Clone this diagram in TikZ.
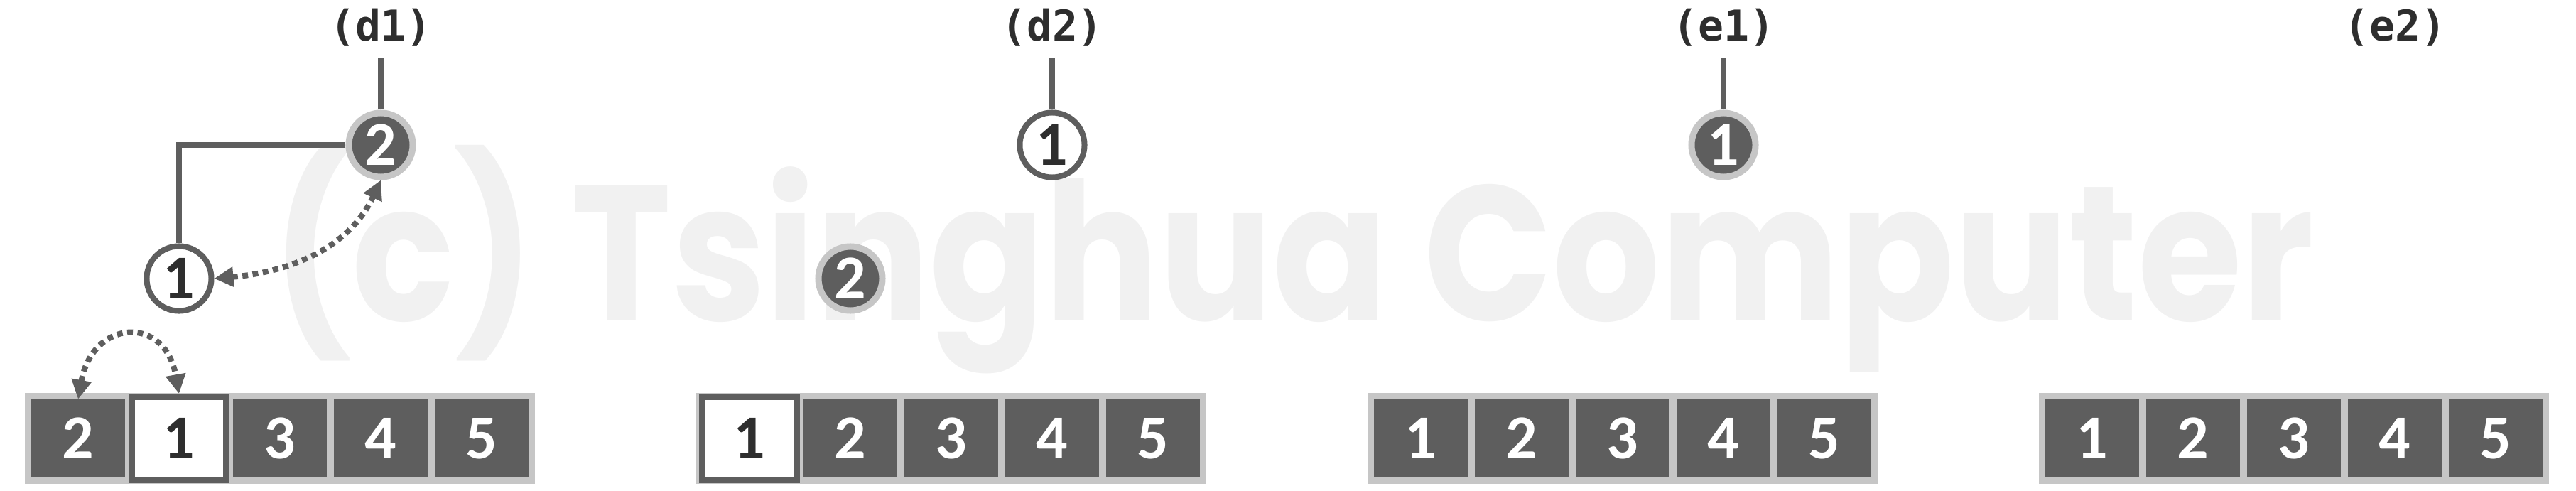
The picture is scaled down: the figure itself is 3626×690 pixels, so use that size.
\documentclass[tikz,border=0pt]{standalone}
\usepackage{fontspec}
\usepackage{tikz}
\usetikzlibrary{arrows.meta}

\newfontfamily\digitfont{Carlito}
\newfontfamily\labelfont{DejaVu Sans Mono}
\newfontfamily\markfont{Poppins}

\definecolor{cellgray}{HTML}{5E5E5E}
\definecolor{rimgray}{HTML}{C6C6C6}
\definecolor{inkgray}{HTML}{2E2E2E}
\definecolor{markgray}{HTML}{F1F1F1}

\tikzset{
  digits/.style={font=\digitfont\bfseries\fontsize{25}{25}\selectfont},
  barbox/.style={fill=rimgray, minimum width=7.18cm, minimum height=1.27cm, inner sep=0},
  cellbox/.style={digits, fill=cellgray, text=white, minimum width=1.32cm, minimum height=1.09cm, inner sep=0},
  pickbox/.style={digits, fill=white, draw=cellgray, line width=0.09cm, text=inkgray, minimum width=1.33cm, minimum height=1.17cm, inner sep=0},
  solidnode/.style={digits, circle, fill=cellgray, draw=rimgray, line width=0.09cm, text=white, minimum size=0.9cm, inner sep=0},
  opennode/.style={digits, circle, fill=white, draw=cellgray, line width=0.08cm, text=inkgray, minimum size=0.91cm, inner sep=0},
  steplabel/.style={font=\labelfont\bfseries\fontsize{17}{17}\selectfont, text=inkgray},
  treeline/.style={draw=cellgray, line width=0.085cm},
  swaparrow/.style={cellgray, line width=0.08cm, dash pattern=on 0.08cm off 0.065cm,
    {Triangle[length=0.27cm,width=0.27cm]}-{Triangle[length=0.27cm,width=0.27cm]}}
}

\begin{document}
\begin{tikzpicture}[x=0.01cm, y=0.01cm]
\useasboundingbox (0,0) rectangle (3626,690);

% watermark
\node[font=\markfont\bfseries\fontsize{77}{77}\selectfont, text=markgray, anchor=base] (mark) at (1820,239) {\scalebox{0.88}[1]{(c) Tsinghua Computer}};

% (d1)
\node[steplabel] (d1lab) at (536,651) {(d1)};
\coordinate (d1top) at (536,609);
\node[barbox] (d1bar) at (394,73) {};
\node[cellbox] (d1a) at (110,73) {2};
\node[pickbox] (d1b) at (252,73) {1};
\node[cellbox] (d1c) at (394,73) {3};
\node[cellbox] (d1d) at (536,73) {4};
\node[cellbox] (d1e) at (678,73) {5};
\node[solidnode] (d1n2) at (536,486) {2};
\node[opennode] (d1n1) at (252,298) {1};
\draw[treeline] (d1n2) -- (d1top);
\draw[treeline] (d1n2.west) -| (d1n1.north);
\draw[swaparrow] (d1n1.east) to[out=5,in=245] (d1n2.south);
\draw[swaparrow] (d1a.north) .. controls +(20,112) and +(-20,112) .. (d1b.north);

% (d2)
\node[steplabel] (d2lab) at (1481,651) {(d2)};
\coordinate (d2top) at (1481,609);
\node[barbox] (d2bar) at (1339,73) {};
\node[pickbox] (d2a) at (1055,73) {1};
\node[cellbox] (d2b) at (1197,73) {2};
\node[cellbox] (d2c) at (1339,73) {3};
\node[cellbox] (d2d) at (1481,73) {4};
\node[cellbox] (d2e) at (1623,73) {5};
\node[opennode] (d2n1) at (1481,486) {1};
\node[solidnode] (d2n2) at (1197,298) {2};
\draw[treeline] (d2n1) -- (d2top);

% (e1)
\node[steplabel] (e1lab) at (2426,651) {(e1)};
\coordinate (e1top) at (2426,609);
\node[barbox] (e1bar) at (2284,73) {};
\node[cellbox] (e1a) at (2000,73) {1};
\node[cellbox] (e1b) at (2142,73) {2};
\node[cellbox] (e1c) at (2284,73) {3};
\node[cellbox] (e1d) at (2426,73) {4};
\node[cellbox] (e1e) at (2568,73) {5};
\node[solidnode] (e1n1) at (2426,486) {1};
\draw[treeline] (e1n1) -- (e1top);

% (e2)
\node[steplabel] (e2lab) at (3371,651) {(e2)};
\node[barbox] (e2bar) at (3229,73) {};
\node[cellbox] (e2a) at (2945,73) {1};
\node[cellbox] (e2b) at (3087,73) {2};
\node[cellbox] (e2c) at (3229,73) {3};
\node[cellbox] (e2d) at (3371,73) {4};
\node[cellbox] (e2e) at (3513,73) {5};
\end{tikzpicture}
\end{document}
